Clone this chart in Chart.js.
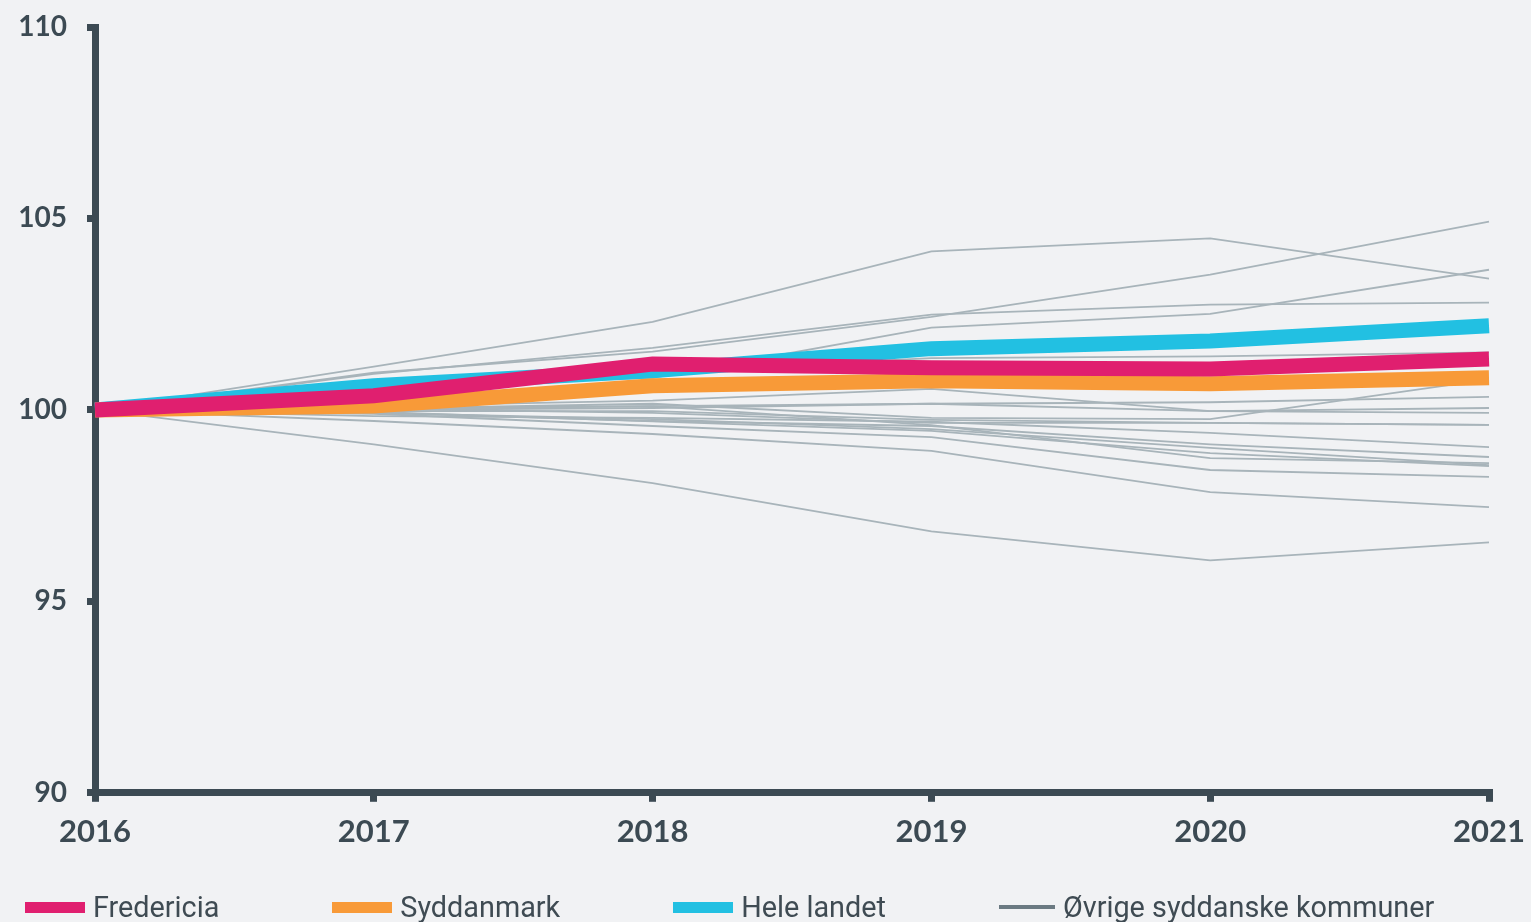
<!DOCTYPE html>
<html>
<head>
<meta charset="utf-8">
<script src="https://cdn.jsdelivr.net/npm/chart.js@4"></script>
<style>
  html, body { margin: 0; padding: 0; background: #f1f2f4; }
  #wrap { position: relative; width: 1531px; height: 922px; overflow: hidden; }
  #legend { position: absolute; left: 25px; top: 890px; display: flex; gap: 113px; font-family: Roboto, sans-serif; font-size: 28.8px; color: #3f4b53; }
  .item { display: flex; align-items: center; white-space: nowrap; }
  .swatch { width: 60px; margin-right: 8px; }
</style>
</head>
<body>
<div id="wrap">
  <canvas id="chart" width="1531" height="922"></canvas>
  <div id="legend"></div>
</div>
<script>
const years = ['2016', '2017', '2018', '2019', '2020', '2021'];
const yTicks = [90, 95, 100, 105, 110];

const fredericia = [100, 100.37, 101.2, 101.1, 101.07, 101.33];
const syddanmark = [100, 100.1, 100.63, 100.76, 100.68, 100.84];
const heleLandet = [100, 100.63, 101.02, 101.6, 101.8, 102.2];

// øvrige syddanske kommuner, one array per kommune
const ovrige = [
    [100, 101.13, 102.30, 104.14, 104.48, 103.43],
    [100, 100.97, 101.52, 102.43, 103.53, 104.92],
    [100, 100.6, 100.84, 102.15, 102.51, 103.66],
    [100, 100.94, 101.62, 102.49, 102.75, 102.80],
    [100, 100.5, 101.0, 101.35, 101.4, 101.5],
    [100, 99.1, 98.09, 96.83, 96.07, 96.54],
    [100, 99.71, 99.37, 98.93, 97.85, 97.46],
    [100, 99.9, 99.58, 99.29, 98.43, 98.25],
    [100, 99.95, 99.7, 99.45, 98.87, 98.53],
    [100, 99.92, 99.76, 99.5, 99.01, 98.56],
    [100, 100.0, 100.1, 99.6, 98.74, 98.61],
    [100, 99.84, 99.79, 99.69, 99.40, 99.03],
    [100, 100.03, 99.92, 99.66, 99.66, 99.61],
    [100, 99.97, 99.97, 99.74, 99.66, 99.61],
    [100, 100.03, 100.16, 99.79, 99.76, 100.8],
    [100, 100.1, 100.24, 100.55, 99.97, 100.05],
    [100, 100.05, 100.1, 100.16, 100.2, 100.34],
    [100, 100.0, 100.05, 100.16, 99.97, 99.92],
    [100, 99.92, 99.71, 99.58, 99.1, 98.77]
];

const dark = '#3c4a53';
const grey = '#a8b4ba';

const datasets = [
    { label: 'Fredericia', data: fredericia, borderColor: '#e01f6f', borderWidth: 15 },
    { label: 'Syddanmark', data: syddanmark, borderColor: '#f89a38', borderWidth: 15 },
    { label: 'Hele landet', data: heleLandet, borderColor: '#22c0e2', borderWidth: 15 }
];
ovrige.forEach(function(vals) {
    datasets.push({ label: 'Øvrige syddanske kommuner', data: vals, borderColor: grey, borderWidth: 1.8 });
});
datasets.forEach(function(d) {
    d.pointRadius = 0;
    d.tension = 0;
    d.fill = false;
});

// legend built from the main series + one grey entry
const legendEl = document.getElementById('legend');
const legendItems = [datasets[0], datasets[1], datasets[2], datasets[3]];
legendItems.forEach(function(d, i) {
    const item = document.createElement('div');
    item.className = 'item';
    const sw = document.createElement('span');
    sw.className = 'swatch';
    sw.style.height = i < 3 ? '11px' : '4px';
    sw.style.width = i < 3 ? '60px' : '56px';
    sw.style.background = i < 3 ? d.borderColor : '#6b7a82';
    const txt = document.createElement('span');
    txt.textContent = d.label;
    item.appendChild(sw);
    item.appendChild(txt);
    legendEl.appendChild(item);
});

const ctx = document.getElementById('chart').getContext('2d');
new Chart(ctx, {
    type: 'line',
    data: { labels: years, datasets: datasets },
    options: {
        responsive: false,
        animation: false,
        layout: { padding: { left: 0, right: 42, top: 27, bottom: 59 } },
        plugins: {
            legend: { display: false },
            tooltip: { enabled: false }
        },
        scales: {
            x: {
                offset: false,
                afterFit: function(scale) { scale.paddingLeft = 0; scale.paddingRight = 0; },
                grid: { drawOnChartArea: false, color: dark, tickLength: 9, lineWidth: 7 },
                border: { color: dark, width: 7 },
                ticks: { color: dark, padding: 12, maxRotation: 0, font: { family: 'Lato', size: 31, weight: 'bold' } }
            },
            y: {
                min: 90,
                max: 110,
                afterBuildTicks: function(scale) {
                    scale.ticks = yTicks.map(function(v) { return { value: v }; });
                },
                afterFit: function(scale) {
                    scale.width = 95;
                    scale.paddingTop = 0;
                    scale.paddingBottom = 0;
                },
                grid: { drawOnChartArea: false, color: dark, tickLength: 8, lineWidth: 7 },
                border: { color: dark, width: 7 },
                ticks: { color: dark, padding: 20, font: { family: 'Lato', size: 28, weight: 'bold' } }
            }
        }
    }
});
</script>
</body>
</html>
